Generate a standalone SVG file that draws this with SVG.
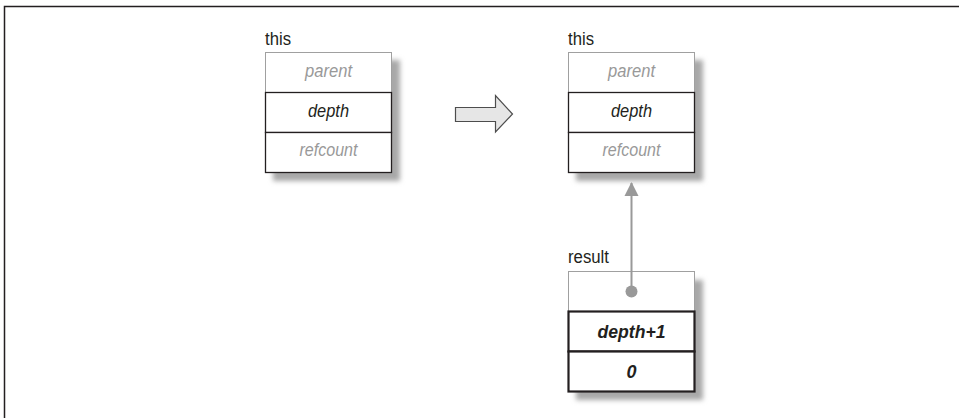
<svg xmlns="http://www.w3.org/2000/svg" width="959" height="418" viewBox="0 0 959 418">
<style>
.lbl{font-family:"Liberation Sans",Arial,sans-serif;font-size:18px;fill:#231f20}
.fld{font-family:"Liberation Sans",Arial,sans-serif;font-size:18px;font-style:italic;text-anchor:middle}
.dim{fill:#999}
.blk{fill:#231f20}
.bold{font-weight:bold}
.gray{fill:#fff;stroke:#a0a0a0;stroke-width:1}
.dark{fill:#fff;stroke:#231f20;stroke-width:1.3}
.thick{fill:#fff;stroke:#231f20;stroke-width:2.2}
.shadow{fill:#a8a8a8;filter:url(#blur)}
.conn{stroke:#999;stroke-width:2;fill:none}
</style>
<defs>
<filter id="blur" x="-20%" y="-20%" width="140%" height="140%"><feGaussianBlur stdDeviation="2.5"/></filter>
<marker id="ah" viewBox="0 0 14 16" refX="13" refY="8" markerWidth="14" markerHeight="16" markerUnits="userSpaceOnUse" orient="auto"><path d="M0,1 L14,8 L0,15 Z" fill="#999"/></marker>
</defs>
<path d="M4.5,418 V6.5 H959" fill="none" stroke="#231f20" stroke-width="1.5"/>
<g id="this-before">
<rect class="shadow" x="273" y="60" width="127" height="121"/>
<text class="lbl" x="265" y="45" textLength="26" lengthAdjust="spacingAndGlyphs">this</text>
<rect class="gray" x="265.5" y="52.5" width="126" height="40"/>
<rect class="dark" x="265.5" y="92.5" width="126" height="40"/>
<rect class="dark" x="265.5" y="132.5" width="126" height="40"/>
<text class="fld dim" x="328.5" y="77" textLength="47" lengthAdjust="spacingAndGlyphs">parent</text>
<text class="fld blk" x="328.5" y="117" textLength="41" lengthAdjust="spacingAndGlyphs">depth</text>
<text class="fld dim" x="328.5" y="156" textLength="58" lengthAdjust="spacingAndGlyphs">refcount</text>
</g>
<g id="transform-arrow">
<path d="M455.5,107.5 H495.5 V95.5 L512.5,114 L495.5,132 V121.5 H455.5 Z" fill="#e6e6e6" stroke="#4d4d4d" stroke-width="1.2"/>
</g>
<g id="this-after">
<rect class="shadow" x="576" y="60" width="127" height="121"/>
<text class="lbl" x="568" y="45" textLength="26" lengthAdjust="spacingAndGlyphs">this</text>
<rect class="gray" x="568.5" y="52.5" width="126" height="40"/>
<rect class="dark" x="568.5" y="92.5" width="126" height="40"/>
<rect class="dark" x="568.5" y="132.5" width="126" height="40"/>
<text class="fld dim" x="631.5" y="77" textLength="47" lengthAdjust="spacingAndGlyphs">parent</text>
<text class="fld blk" x="631.5" y="117" textLength="41" lengthAdjust="spacingAndGlyphs">depth</text>
<text class="fld dim" x="631.5" y="156" textLength="58" lengthAdjust="spacingAndGlyphs">refcount</text>
</g>
<g id="result">
<rect class="shadow" x="576" y="280" width="127" height="120"/>
<text class="lbl" x="568" y="263" textLength="41" lengthAdjust="spacingAndGlyphs">result</text>
<rect class="gray" x="568.5" y="271.5" width="126" height="40"/>
<rect class="thick" x="568.5" y="311.5" width="126" height="40"/>
<rect class="thick" x="568.5" y="351.5" width="126" height="40"/>
<text class="fld blk bold" x="631.5" y="338" textLength="68" lengthAdjust="spacingAndGlyphs">depth+1</text>
<text class="fld blk bold" x="631.5" y="378">0</text>
</g>
<g id="connectors">
<line class="conn" x1="631.5" y1="291.5" x2="631.5" y2="183" marker-end="url(#ah)"/>
<circle cx="631.5" cy="291.5" r="6" fill="#999"/>
</g>
</svg>
